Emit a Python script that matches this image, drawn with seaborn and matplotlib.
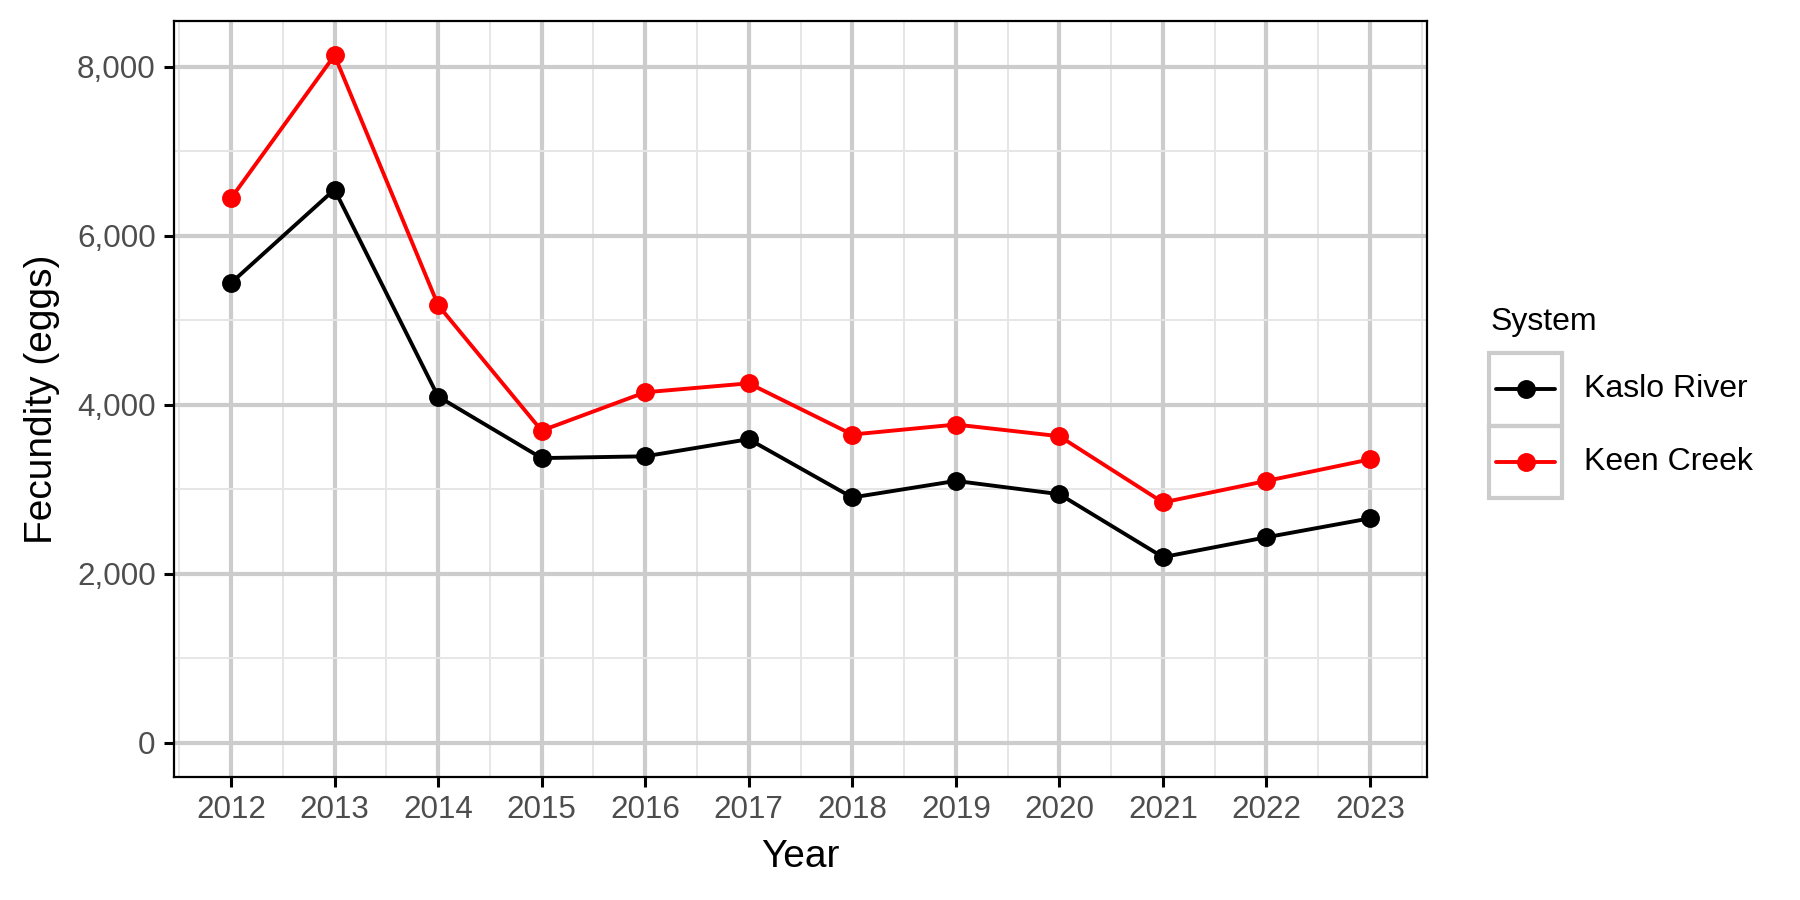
import pandas as pd
import numpy as np
import seaborn as sns
import matplotlib.pyplot as plt
from matplotlib.ticker import FuncFormatter, MultipleLocator
from matplotlib.patches import Rectangle
from matplotlib.lines import Line2D

# values
years = [2012, 2013, 2014, 2015, 2016, 2017, 2018, 2019, 2020, 2021, 2022, 2023]
kaslo_river = [5440, 6547, 4097, 3368, 3389, 3592, 2902, 3098, 2941, 2196, 2431, 2655]
keen_creek = [6442, 8135, 5179, 3693, 4147, 4253, 3647, 3765, 3627, 2843, 3098, 3353]
systems = ["Kaslo River", "Keen Creek"]
colors = {"Kaslo River": "black", "Keen Creek": "red"}

df = pd.DataFrame({
    "Year": years * 2,
    "Fecundity": kaslo_river + keen_creek,
    "System": [systems[0]] * len(years) + [systems[1]] * len(years),
})

sns.set_theme(style="white")
plt.rcParams["font.family"] = ["Liberation Sans", "DejaVu Sans"]

fig = plt.figure(figsize=(9, 4.5), dpi=200)
ax = fig.add_axes([174 / 1800, 1 - 777 / 900, (1427 - 174) / 1800, (777 - 21) / 900])

sns.lineplot(data=df, x="Year", y="Fecundity", hue="System", palette=colors,
             marker="o", markersize=6.8, markeredgewidth=0, linewidth=1.4,
             legend=False, ax=ax, zorder=3)

# ggplot-like expansion
ymax = df["Fecundity"].max()
ax.set_ylim(-0.05 * ymax, 1.05 * ymax)
xr = years[-1] - years[0]
ax.set_xlim(years[0] - 0.05 * xr, years[-1] + 0.05 * xr)

ax.set_xticks(years)
ax.xaxis.set_minor_locator(MultipleLocator(0.5))
ax.yaxis.set_major_locator(MultipleLocator(2000))
ax.yaxis.set_minor_locator(MultipleLocator(1000))
ax.yaxis.set_major_formatter(FuncFormatter(lambda v, p: f"{int(v):,}"))

ax.grid(which="major", color="#cccccc", linewidth=1.5, zorder=0)
ax.grid(which="minor", color="#e6e6e6", linewidth=0.7, zorder=0)
ax.set_axisbelow(True)

for s in ax.spines.values():
    s.set_color("black")
    s.set_linewidth(0.8)

ax.tick_params(which="major", length=3.6, width=1.1, color="black",
               labelsize=11.3, labelcolor="#4d4d4d", pad=3, bottom=True, left=True)
ax.tick_params(which="minor", length=0)

ax.set_xlabel("Year", fontsize=14, color="black", labelpad=5)
ax.set_ylabel("Fecundity (eggs)", fontsize=14, color="black", labelpad=6)

# legend drawn ggplot-style with boxed keys
lx0, lx1 = 1489 / 1800, 1562 / 1800
ly0, ly1 = 1 - 498 / 900, 1 - 353 / 900
lax = fig.add_axes([lx0, ly0, lx1 - lx0, ly1 - ly0])
lax.set_xlim(0, 1)
lax.set_ylim(0, len(systems))
lax.axis("off")
for i, name in enumerate(systems):
    yc = len(systems) - i - 0.5
    lax.add_patch(Rectangle((0, yc - 0.5), 1, 1, fill=False, edgecolor="#cccccc",
                            linewidth=1.5, clip_on=False))
    lax.add_line(Line2D([0.1, 0.9], [yc, yc], color=colors[name], linewidth=1.4))
    lax.plot([0.5], [yc], marker="o", markersize=6.8, markeredgewidth=0, color=colors[name])
    fig.text(1584 / 1800, (ly0 + (ly1 - ly0) * yc / len(systems)), name,
             fontsize=11.5, color="black", va="center", ha="left")

fig.text(1491 / 1800, 1 - 330 / 900, "System", fontsize=11.5, color="black",
         va="baseline", ha="left")

fig.savefig("out.png", dpi=200, facecolor="white")
